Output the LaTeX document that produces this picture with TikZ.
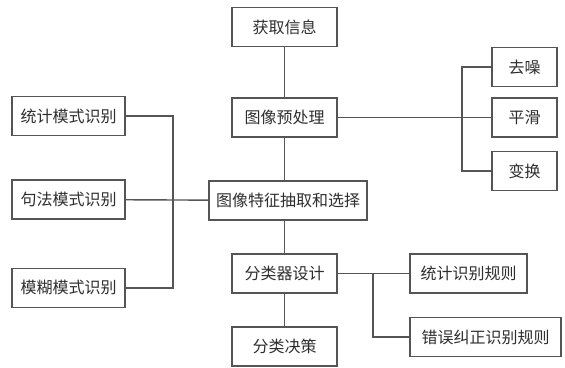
\documentclass[tikz,border=0pt]{standalone}
\usepackage{fontspec}
\usepackage{xcolor}
\usepackage{tikz}
\newfontfamily\cjk{Noto Sans CJK SC}
\definecolor{lngray}{HTML}{555555}
\definecolor{txgray}{HTML}{2E2E2E}

\begin{document}
\begin{tikzpicture}[x=1pt, y=-1pt, line width=1.4pt,
  box/.style={draw=lngray, fill=white, minimum height=39pt, inner sep=0pt,
    font=\cjk\fontsize{16}{19}\selectfont, text=txgray},
  link/.style={draw=lngray}]
  % picture in pixel units, y running down; \bxW is the width of the middle boxes
  \def\bxW{105}
  \useasboundingbox (0,0) rectangle (565,367);

  % middle column
  \node[box, minimum width=\bxW] (info) at (284.5,27) {获取信息};
  \node[box, minimum width=\bxW] (prep) at (284.5,117.5) {图像预处理};
  \node[box, minimum width=158] (feat) at (288,200.5) {图像特征抽取和选择};
  \node[box, minimum width=\bxW] (clsd) at (284.5,273.5) {分类器设计};
  \node[box, minimum width=\bxW] (dcsn) at (284.5,346.5) {分类决策};

  % preprocessing steps, right
  \node[box, minimum width=65] (noise) at (524.5,67) {去噪};
  \node[box, minimum width=65] (smth) at (524.5,117.5) {平滑};
  \node[box, minimum width=65] (trfm) at (524.5,171) {变换};

  % recognition methods, left
  \node[box, minimum width=113] (stat) at (68.5,116) {统计模式识别};
  \node[box, minimum width=113] (synt) at (68.5,199.5) {句法模式识别};
  \node[box, minimum width=113] (fuzz) at (68.5,288) {模糊模式识别};

  % rules, bottom right
  \node[box, minimum width=117] (rule) at (468.5,273.5) {统计识别规则};
  \node[box, minimum width=151] (corr) at (485.5,337) {错误纠正识别规则};

  % branch points
  \coordinate (rbr) at (462,117.5);
  \coordinate (lbr) at (173,199.5);
  \coordinate (cbr) at (373,273.5);

  % connectors
  \draw[link] (info) -- (prep);
  \draw[link] (prep) -- (prep |- feat.north);
  \draw[link] (clsd |- feat.south) -- (clsd);
  \draw[link] (clsd) -- (dcsn);
  \draw[link] (prep) -- (smth);
  \draw[link] (noise.west) -| (rbr) |- (trfm.west);
  \draw[link] (synt) -- (feat);
  \draw[link] (stat.east) -| (lbr) |- (fuzz.east);
  \draw[link] (clsd) -- (rule);
  \draw[link] (cbr) |- (corr.west);
\end{tikzpicture}
\end{document}
